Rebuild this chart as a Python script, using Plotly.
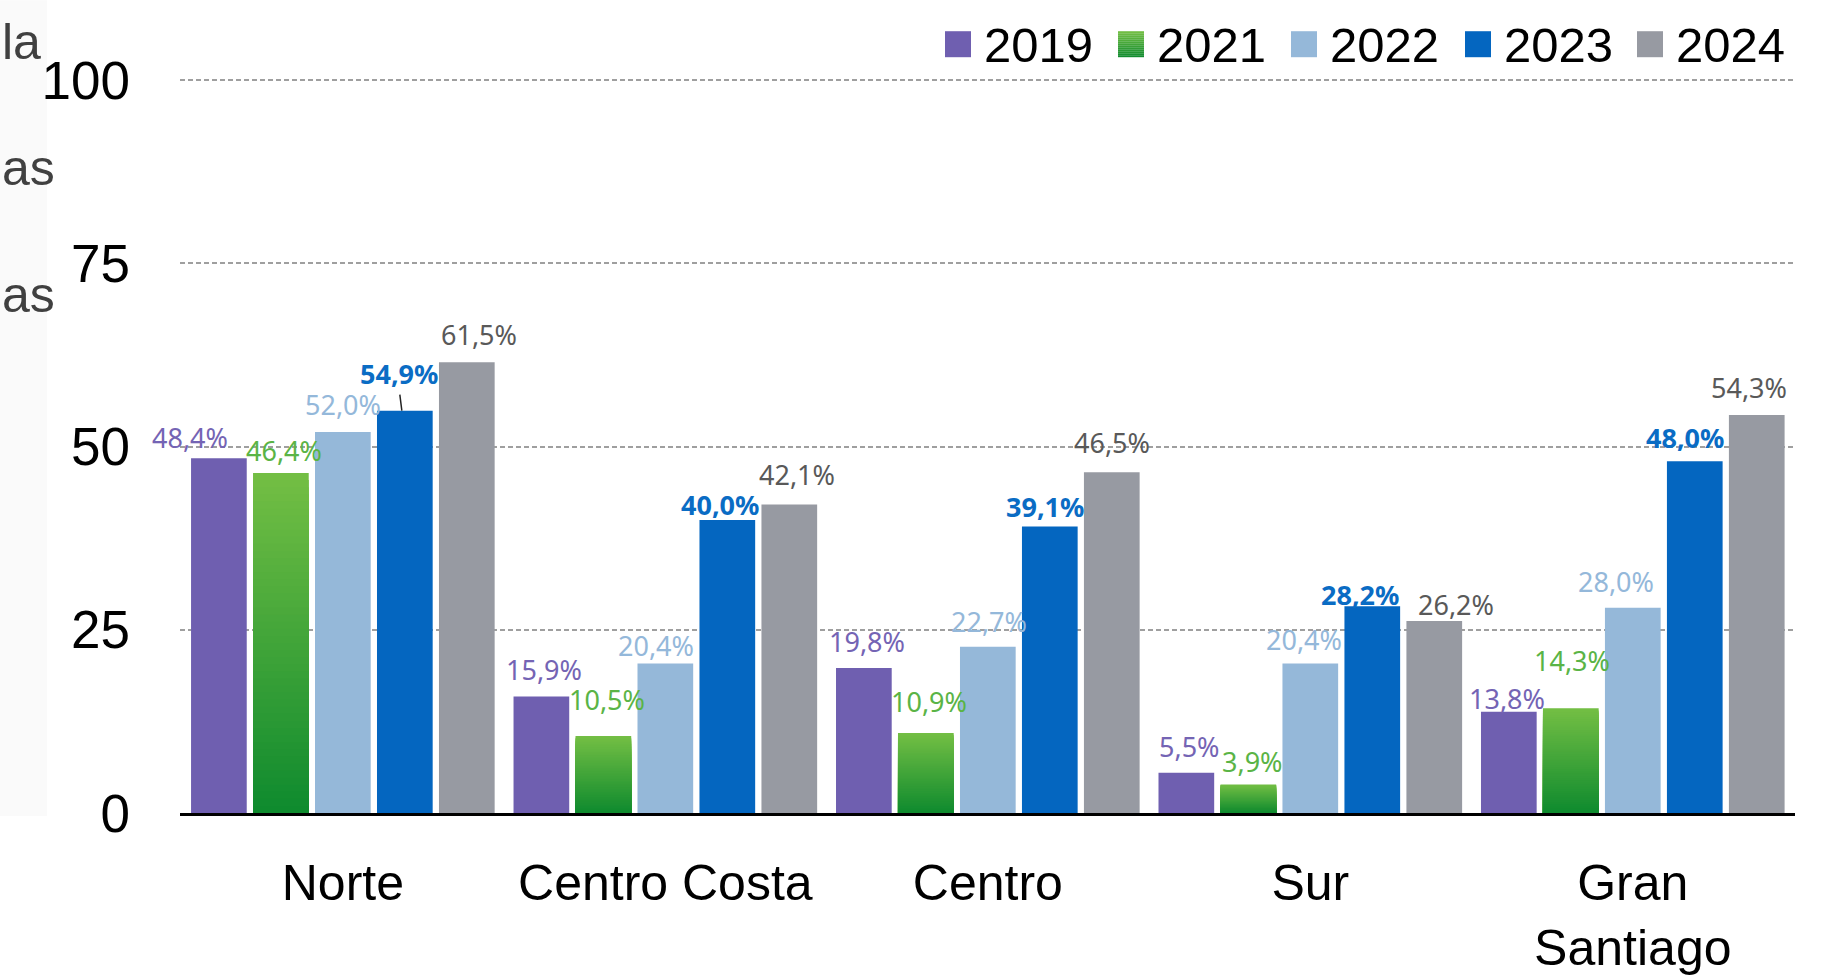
import plotly.graph_objects as go

# ---------------- data ----------------
categories = ["Norte", "Centro Costa", "Centro", "Sur", "Gran Santiago"]
tick_labels = ["Norte", "Centro Costa", "Centro", "Sur", "Gran<br>Santiago"]
years = ["2019", "2021", "2022", "2023", "2024"]
v2019 = [48.4, 15.9, 19.8, 5.5, 13.8]
v2021 = [46.4, 10.5, 10.9, 3.9, 14.3]
v2022 = [52.0, 20.4, 22.7, 20.4, 28.0]
v2023 = [54.9, 40.0, 39.1, 28.2, 48.0]
v2024 = [61.5, 42.1, 46.5, 26.2, 54.3]
y_ticks = [0, 25, 50, 75, 100]
left_fragments = ["la", "as", "as"]

series = [v2019, v2021, v2022, v2023, v2024]

# ---------------- styles ----------------
bar_colors = ["#6f5fb0", None, "#95b8d9", "#0466c0", "#979aa2"]
green_top = (116, 191, 68)
green_bottom = (14, 138, 46)
label_colors = ["#7464b4", "#5ab446", "#94b8da", "#0a6cc4", "#595959"]
label_bold = [False, False, False, True, False]

# label offsets (px) relative to bar centre / bar top
label_offsets = [
    [(-29, 19.6), (3, 25.7), (3, 25.2), (3, 25.6), (-2, 12.8)],
    [(3, 21.4), (4, 35.8), (3, 30.6), (4, 22.1), (1, 46.7)],
    [(0, 26.0), (-9.7, 17.3), (1, 23.8), (-6, 23.2), (-17, 24.9)],
    [(-6, 36.6), (-7, 14.3), (-5, 18.6), (-12, 10.5), (-9.5, 22.6)],
    [(11.7, 26.8), (8, 29.4), (0, 28.9), (22, 15.8), (-8, 26.8)],
]

W, H = 1839, 977
YMAX = 100.3
L, R, B = 180, 1795, 813
T = B - 733 * YMAX / 100
SLOT = 0.1922
BW = 0.1727
XRANGE = [-0.505, 4.503]
CAT_PX = (R - L) / (XRANGE[1] - XRANGE[0])
PX_PER_UNIT = (B - T) / YMAX


def px_x(p):
    return (p - L) / (R - L)


def px_y(p):
    return (B - p) / (B - T)


def mix(c1, c2, t):
    return "rgb(%d,%d,%d)" % tuple(round(a + (b - a) * t) for a, b in zip(c1, c2))


fig = go.Figure()

for j, vals in enumerate(series):
    off = (j - 2) * SLOT - BW / 2
    if j == 1:
        N = 48
        for k in range(N):
            f = 1 - k / N
            t = f - 0.5 / N
            fig.add_trace(go.Bar(
                x=categories, y=[v * f for v in vals], offset=off, width=BW,
                marker=dict(color=mix(green_bottom, green_top, t), line=dict(width=0)),
                name=years[j], showlegend=False,
                hoverinfo="skip" if k else None,
            ))
    else:
        fig.add_trace(go.Bar(
            x=categories, y=vals, offset=off, width=BW,
            marker=dict(color=bar_colors[j], line=dict(width=0)),
            name=years[j], showlegend=False,
        ))

annotations = []
for j, vals in enumerate(series):
    for i, v in enumerate(vals):
        dx, dy = label_offsets[j][i]
        txt = ("%.1f" % v).replace(".", ",") + "%"
        if label_bold[j]:
            txt = "<b>" + txt + "</b>"
        annotations.append(dict(
            x=i + (j - 2) * SLOT, y=v, xref="x", yref="y", text=txt,
            showarrow=False, xanchor="center", yanchor="middle",
            xshift=dx, yshift=dy + 1,
            font=dict(family="Noto Sans", size=27, color=label_colors[j]),
        ))

shapes = []
# leader line for Norte 2023 label
shapes.append(dict(
    type="line", xref="x", yref="y",
    x0=0 + SLOT - 3 / CAT_PX, y0=series[3][0],
    x1=0 + SLOT - 5 / CAT_PX, y1=series[3][0] + 16 / PX_PER_UNIT,
    line=dict(color="#222222", width=1.5),
))

# faint left background strip
shapes.append(dict(type="rect", xref="paper", yref="paper",
                   x0=px_x(0), x1=px_x(47), y0=px_y(816), y1=px_y(0),
                   fillcolor="#fafafa", line=dict(width=0), layer="below"))

# manual legend
leg_marker_left = [945, 1118, 1291, 1465, 1637]
for j, yr in enumerate(years):
    cx = px_x(leg_marker_left[j] + 13)
    cy = px_y(44)
    if j == 1:
        S = 13
        for s in range(S):
            t = 1 - (s + 0.5) / S
            shapes.append(dict(type="rect", xref="paper", yref="paper",
                               xsizemode="pixel", ysizemode="pixel",
                               xanchor=cx, yanchor=cy,
                               x0=-13, x1=13, y0=13 - 2 * (s + 1), y1=13 - 2 * s,
                               fillcolor=mix(green_bottom, green_top, t),
                               line=dict(width=0)))
    else:
        shapes.append(dict(type="rect", xref="paper", yref="paper",
                           xsizemode="pixel", ysizemode="pixel",
                           xanchor=cx, yanchor=cy,
                           x0=-13, x1=13, y0=-13, y1=13,
                           fillcolor=bar_colors[j], line=dict(width=0)))
    annotations.append(dict(
        x=px_x(leg_marker_left[j] + 37), y=px_y(44.5), xref="paper", yref="paper",
        text=yr, showarrow=False, xanchor="left", yanchor="middle",
        font=dict(family="Liberation Sans", size=49, color="#000000"),
    ))

# text fragments at the left edge
for txt, yc in zip(left_fragments, [42, 168, 295]):
    annotations.append(dict(
        x=px_x(0), y=px_y(yc), xref="paper", yref="paper", text=txt,
        showarrow=False, xanchor="left", yanchor="middle",
        font=dict(family="Liberation Sans", size=50, color="#404040"),
    ))

fig.update_layout(
    width=W, height=H,
    margin=dict(l=L, r=W - R, t=T, b=H - B, pad=0, autoexpand=False),
    paper_bgcolor="white", plot_bgcolor="white",
    barmode="overlay",
    showlegend=False,
    annotations=annotations,
    shapes=shapes,
    font=dict(family="Liberation Sans", color="#000000"),
    xaxis=dict(
        type="category", range=XRANGE, automargin=False,
        tickmode="array", tickvals=categories, ticktext=tick_labels,
        tickfont=dict(family="Liberation Sans", size=50, color="#000000"),
        showline=True, linecolor="#000000", linewidth=3,
        showgrid=False, ticks="", ticklabelstandoff=24,
    ),
    yaxis=dict(
        range=[0, YMAX], tickmode="array", tickvals=y_ticks, automargin=False,
        tickfont=dict(family="Liberation Sans", size=53, color="#000000"),
        showgrid=True, gridcolor="#9f9f9f", gridwidth=2, griddash="5px,3px",
        zeroline=False, showline=False, ticks="", ticklabelstandoff=49,
    ),
)

fig.write_html("out.html", config={"displayModeBar": False},
               post_script="document.body.style.margin='0';")
